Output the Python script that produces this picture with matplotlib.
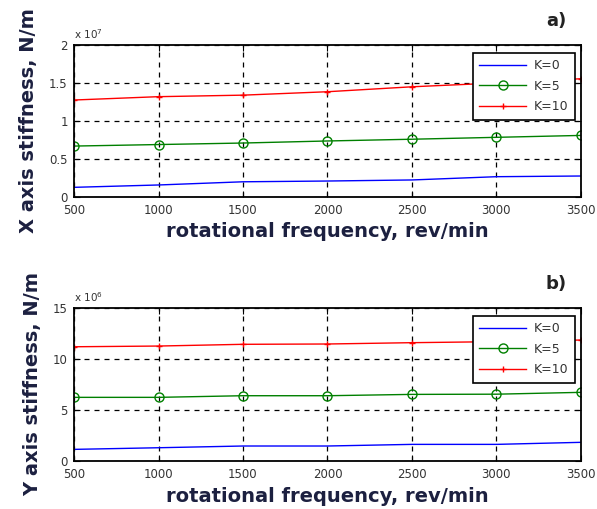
import matplotlib
matplotlib.use("Agg")
import matplotlib.pyplot as plt

freq = [500, 1000, 1500, 2000, 2500, 3000, 3500]

# X axis stiffness (x 1e7 N/m)
kx_0 = [0.127, 0.158, 0.200, 0.210, 0.224, 0.267, 0.276]
kx_5 = [0.670, 0.690, 0.710, 0.737, 0.760, 0.785, 0.810]
kx_10 = [1.276, 1.320, 1.340, 1.385, 1.450, 1.500, 1.556]

# Y axis stiffness (x 1e6 N/m)
ky_0 = [1.14, 1.30, 1.47, 1.47, 1.63, 1.63, 1.83]
ky_5 = [6.24, 6.24, 6.40, 6.40, 6.53, 6.55, 6.73]
ky_10 = [11.20, 11.27, 11.44, 11.47, 11.60, 11.70, 11.86]

xticks = [500, 1000, 1500, 2000, 2500, 3000, 3500]
yticks_a = [0, 0.5, 1, 1.5, 2]
ytick_labels_a = ["0", "0.5", "1", "1.5", "2"]
yticks_b = [0, 5, 10, 15]
ytick_labels_b = ["0", "5", "10", "15"]
legend_labels = ["K=0", "K=5", "K=10"]

label_color = "#1c2040"
tick_color = "#333333"

fig = plt.figure(figsize=(5.97, 5.09), dpi=100)
ax1 = fig.add_axes([0.124, 0.613, 0.849, 0.2986])
ax2 = fig.add_axes([0.124, 0.0943, 0.849, 0.3006])


def draw(ax, s0, s5, s10, yticks, ylabels, ymax, exp, ylab, tag):
    ax.plot(freq, s0, color="#0000ff", lw=1.0, label=legend_labels[0])
    ax.plot(freq, s5, color="#008000", lw=1.0, marker="o", ms=6.5,
            mfc="none", mec="#008000", mew=1.0, label=legend_labels[1])
    ax.plot(freq, s10, color="#ff0000", lw=1.0, marker="+", ms=5,
            mew=1.0, label=legend_labels[2])
    ax.set_xlim(500, 3500)
    ax.set_ylim(0, ymax)
    ax.set_xticks(xticks)
    ax.set_xticklabels([str(t) for t in xticks])
    ax.set_yticks(yticks)
    ax.set_yticklabels(ylabels)
    ax.grid(True, color="black", linestyle=(0, (4, 4)), lw=0.9)
    ax.tick_params(direction="in", length=4, labelsize=8.5,
                   colors="black", labelcolor=tick_color,
                   top=True, right=True)
    ax.tick_params(axis="x", pad=5)
    ax.tick_params(axis="y", pad=4.5)
    for sp in ax.spines.values():
        sp.set_linewidth(1.3)
        sp.set_color("black")
    ax.set_xlabel("rotational frequency, rev/min", fontsize=14,
                  fontweight="bold", color=label_color, labelpad=4)
    ax.set_ylabel(ylab, fontsize=14, fontweight="bold",
                  color=label_color, labelpad=8)
    ax.text(0.0, 1.025, r"x 10$^{%d}$" % exp, transform=ax.transAxes,
            fontsize=7.5, color=tick_color, ha="left", va="bottom")
    ax.text(0.972, 1.1, tag, transform=ax.transAxes, fontsize=13,
            fontweight="bold", color="#222222", ha="right", va="bottom")
    leg = ax.legend(loc="upper right", bbox_to_anchor=(0.988, 0.947),
                    borderaxespad=0,
                    fontsize=9, frameon=True, fancybox=False,
                    edgecolor="black", framealpha=1, handlelength=3.8,
                    borderpad=0.5, labelspacing=0.6, handletextpad=0.6)
    leg.get_frame().set_linewidth(1.2)
    for t in leg.get_texts():
        t.set_color("#333333")


draw(ax1, kx_0, kx_5, kx_10, yticks_a, ytick_labels_a, 2, 7,
     "X axis stiffness, N/m", "a)")
draw(ax2, ky_0, ky_5, ky_10, yticks_b, ytick_labels_b, 15, 6,
     "Y axis stiffness, N/m", "b)")

fig.savefig("out.png", dpi=100)
